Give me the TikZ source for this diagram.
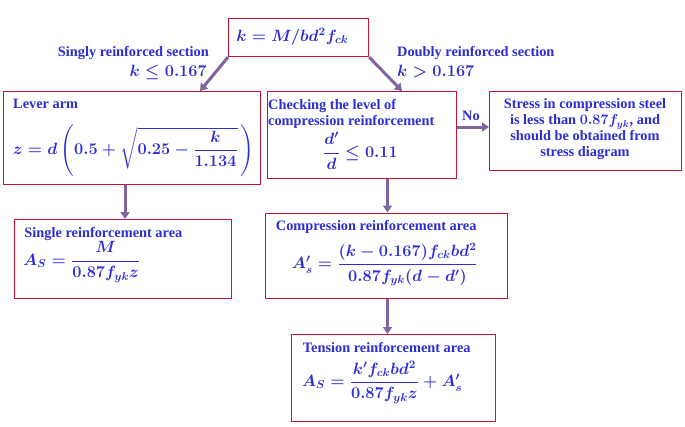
\RequirePackage{fix-cm}
\documentclass[tikz,border=0pt]{standalone}
\usepackage[no-math]{fontspec}
\setmainfont{Liberation Serif}
\usepackage{amsmath}
\usetikzlibrary{arrows.meta,calc}
\definecolor{txtblue}{RGB}{45,45,215}
\definecolor{boxred}{RGB}{200,20,50}
\definecolor{arrpurple}{RGB}{128,100,162}
\begin{document}
\begin{tikzpicture}[x=1bp,y=-1bp,
  box/.style={draw=boxred,line width=1.2bp,inner sep=0pt,anchor=north west,rectangle},
  lbl/.style={text=txtblue,font=\fontsize{14.4}{16}\selectfont\bfseries\boldmath,inner sep=0pt},
  fml/.style={text=txtblue,font=\fontsize{16.4}{19}\selectfont\boldmath,inner sep=0pt},
  arr/.style={draw=arrpurple,line width=3bp,-{Triangle[width=9bp,length=7bp]}}]
\useasboundingbox[fill=white] (0,0) rectangle (685,426);
% boxes
\node[box,minimum width=140bp,minimum height=38bp] (top) at (228,18) {};
\node[box,minimum width=257bp,minimum height=93bp] (lever) at (3,91) {};
\node[box,minimum width=189bp,minimum height=87bp] (check) at (266.5,91) {};
\node[box,minimum width=192bp,minimum height=79bp] (stress) at (489,91) {};
\node[box,minimum width=217bp,minimum height=79bp] (single) at (14,219) {};
\node[box,minimum width=242bp,minimum height=85.5bp] (comp) at (265,212.5) {};
\node[box,minimum width=204.5bp,minimum height=87bp] (tension) at (290.5,334) {};
% contents
\node[fml,anchor=base] (topf) at (292.5,41) {$k = M/bd^2f_{ck}$};
\node[lbl,anchor=base east] (singlylbl) at (209,56.5) {Singly reinforced section};
\node[fml,anchor=base east] (singlyk) at (207,76.5) {$k \le 0.167$};
\node[lbl,anchor=base west] (doublylbl) at (397,56.5) {Doubly reinforced section};
\node[fml,anchor=base west] (doublyk) at (397,76.5) {$k > 0.167$};
\node[lbl,anchor=base west] (leverlbl) at (13,108) {Lever arm};
\node[fml,anchor=west] (leverf) at (12.7,150.5) {$z = d\left(0.5+\sqrt{0.25-\dfrac{k}{1.134}}\,\right)$};
\node[lbl,anchor=base west] (checklbl1) at (268,109.5) {Checking the level of};
\node[lbl,anchor=base west] (checklbl2) at (268,125) {compression reinforcement};
\node[fml,anchor=west] (checkf) at (323,151) {$\dfrac{d'}{d} \le 0.11$};
\node[lbl,align=center] (stresstxt) at (585,129.5) {\baselineskip=16bp Stress in compression steel\\is less than $0.87f_{yk}$, and\\should be obtained from\\stress diagram};
\node[lbl] (nolbl) at (471,116) {No};
\node[lbl,anchor=base west] (singlelbl) at (24.3,237) {Single reinforcement area};
\node[fml,anchor=west] (singlef) at (23,262) {$A_S = \dfrac{M}{0.87f_{yk}z}$};
\node[lbl,anchor=base west] (complbl) at (275.7,230.5) {Compression reinforcement area};
\node[fml,anchor=west] (compf) at (291.7,264.5) {$A'_s = \dfrac{(k-0.167)f_{ck}bd^2}{0.87f_{yk}(d-d')}$};
\node[lbl,anchor=base west] (tenslbl) at (302.7,352) {Tension reinforcement area};
\node[fml,anchor=west] (tensf) at (301.7,382) {$A_S = \dfrac{k'f_{ck}bd^2}{0.87f_{yk}z} + A'_s$};
% arrows
\draw[arr] (top.south west) -- (200,0 |- lever.north);
\draw[arr] (top.south east) -- (402,0 |- check.north);
\draw[arr] (check.east |- 0,127) -- (stress.west |- 0,127);
\draw[arr] (125,0 |- lever.south) -- (125,0 |- single.north);
\draw[arr] (387.5,0 |- check.south) -- (387.5,0 |- comp.north);
\draw[arr] (387.5,0 |- comp.south) -- (387.5,0 |- tension.north);
\end{tikzpicture}
\end{document}
